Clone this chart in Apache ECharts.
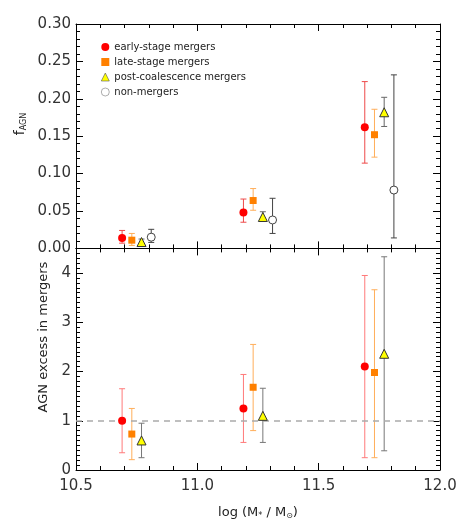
<!DOCTYPE html>
<html>
<head>
<meta charset="utf-8">
<script src="https://cdn.jsdelivr.net/npm/echarts@6/dist/echarts.min.js"></script>
<style>
  html, body { margin: 0; padding: 0; background: #fff; }
  #chart { width: 463px; height: 521px; }
</style>
</head>
<body>
<div id="chart"></div>
<script>
// stellar mass per stage (slightly offset in each bin)
const massEarly = [10.69, 11.19, 11.69];
const massLate = [10.73, 11.23, 11.73];
const massPost = [10.77, 11.27, 11.77];
const massNon = [10.81, 11.31, 11.81];

// top panel: AGN fraction with error range
const fEarly = [0.014, 0.048, 0.162];
const fEarlyLo = [0.007, 0.035, 0.114];
const fEarlyHi = [0.024, 0.066, 0.223];
const fLate = [0.011, 0.064, 0.152];
const fLateLo = [0.004, 0.051, 0.122];
const fLateHi = [0.020, 0.080, 0.186];
const fPost = [0.0085, 0.042, 0.182];
const fPostLo = [0.005, 0.038, 0.163];
const fPostHi = [0.0125, 0.049, 0.202];
const fNon = [0.015, 0.038, 0.078];
const fNonLo = [0.008, 0.020, 0.014];
const fNonHi = [0.0255, 0.067, 0.232];

// bottom panel: AGN excess in mergers
const exEarly = [1.0, 1.25, 2.10];
const exEarlyLo = [0.35, 0.56, 0.25];
const exEarlyHi = [1.65, 1.94, 3.95];
const exLate = [0.73, 1.68, 1.98];
const exLateLo = [0.21, 0.80, 0.25];
const exLateHi = [1.25, 2.55, 3.66];
const exPost = [0.60, 1.10, 2.36];
const exPostLo = [0.25, 0.56, 0.39];
const exPostHi = [0.95, 1.66, 4.33];

const legendNames = ['early-stage mergers', 'late-stage mergers', 'post-coalescence mergers', 'non-mergers'];

const myChart = echarts.init(document.getElementById('chart'));

const pts = (xs, ys) => xs.map((x, i) => [x, ys[i]]);
const bars = (xs, lo, hi) => xs.map((x, i) => [x, lo[i], hi[i]]);

// vertical error bar with small caps
const errBar = (name, data, color, axis) => ({
  type: 'custom',
  name: name + ' err',
  xAxisIndex: axis,
  yAxisIndex: axis,
  z: 2,
  silent: true,
  data: data,
  renderItem: (params, api) => {
    const x = api.value(0);
    const a = api.coord([x, api.value(1)]);
    const b = api.coord([x, api.value(2)]);
    const c = 3;
    const st = { stroke: color, lineWidth: 1 };
    return {
      type: 'group',
      children: [
        { type: 'line', shape: { x1: a[0], y1: a[1], x2: b[0], y2: b[1] }, style: st },
        { type: 'line', shape: { x1: a[0] - c, y1: a[1], x2: a[0] + c, y2: a[1] }, style: st },
        { type: 'line', shape: { x1: b[0] - c, y1: b[1], x2: b[0] + c, y2: b[1] }, style: st },
      ],
    };
  },
});

const marker = (name, data, axis, symbol, size, style) => ({
  type: 'scatter',
  name: name,
  xAxisIndex: axis,
  yAxisIndex: axis,
  z: 5,
  symbol: symbol,
  symbolSize: size,
  itemStyle: { opacity: 1, ...style },
  data: data,
});

const tickStyle = { lineStyle: { color: '#000', width: 1 } };
const xAxisBase = (grid, pos, label) => ({
  type: 'value',
  gridIndex: grid,
  position: pos,
  min: 10.5,
  max: 12.0,
  interval: 0.5,
  axisLine: { show: true, onZero: false, lineStyle: { color: '#000', width: 1 } },
  axisTick: { show: true, inside: true, length: 7, ...tickStyle },
  minorTick: { show: true, splitNumber: 5, length: 4, ...tickStyle },
  splitLine: { show: false },
  axisLabel: label
    ? { show: true, color: '#333', fontSize: 15, fontFamily: 'DejaVu Sans', margin: 9,
        formatter: (v) => v.toFixed(1) }
    : { show: false },
});

const yAxisBase = (grid, pos, min, max, interval, minor, label) => ({
  type: 'value',
  gridIndex: grid,
  position: pos,
  min: min,
  max: max,
  interval: interval,
  axisLine: { show: true, onZero: false, lineStyle: { color: '#000', width: 1 } },
  axisTick: { show: true, inside: true, length: 7, ...tickStyle },
  minorTick: { show: true, splitNumber: minor, length: 4, ...tickStyle },
  splitLine: { show: false },
  axisLabel: label
    ? { show: true, color: '#333', fontSize: 15, fontFamily: 'DejaVu Sans', margin: 5,
        showMaxLabel: label.showMax, formatter: label.fmt }
    : { show: false },
});

const option = {
  animation: false,
  backgroundColor: '#fff',
  grid: [
    { left: 76, right: 23, top: 24, height: 224.4 },
    { left: 76, right: 23, top: 248.4, height: 223.9 },
  ],
  legend: {
    data: [
      { name: legendNames[0] },
      { name: legendNames[1] },
      { name: legendNames[2], itemStyle: { borderColor: '#555', borderWidth: 0.6 } },
      { name: legendNames[3], itemStyle: { borderColor: '#777', borderWidth: 0.6 } },
    ],
    orient: 'vertical',
    left: 96,
    top: 36,
    itemWidth: 8,
    itemHeight: 8,
    itemGap: 3,
    itemTextGap: 8,
    selectedMode: false,
    textStyle: { color: '#222', fontSize: 10, fontFamily: 'DejaVu Sans', lineHeight: 12 },
  },
  xAxis: [
    xAxisBase(0, 'bottom', false),
    xAxisBase(0, 'top', false),
    {
      ...xAxisBase(1, 'bottom', true),
      name: '{a|log (M}{s|*}{a| / M}{s|⊙}{a|)}',
      nameLocation: 'middle',
      nameGap: 36,
      nameTextStyle: {
        rich: {
          a: { fontSize: 13, fontFamily: 'DejaVu Sans', color: '#222' },
          s: { fontSize: 8, fontFamily: 'DejaVu Sans', color: '#222', verticalAlign: 'bottom', padding: [6, 0, 0, 0] },
        },
      },
    },
    xAxisBase(1, 'top', false),
  ],
  yAxis: [
    yAxisBase(0, 'left', 0, 0.30, 0.05, 5, { showMax: true, fmt: (v) => v.toFixed(2) }),
    yAxisBase(0, 'right', 0, 0.30, 0.05, 5, false),
    yAxisBase(1, 'left', 0, 4.5, 1, 10, { showMax: false, fmt: (v) => String(v) }),
    yAxisBase(1, 'right', 0, 4.5, 1, 10, false),
  ],
  graphic: [
    {
      type: 'text',
      x: 20,
      y: 124,
      rotation: Math.PI / 2,
      style: {
        text: '{f|f}{s|AGN}',
        align: 'center',
        verticalAlign: 'middle',
        rich: {
          f: { fontSize: 14, fontFamily: 'DejaVu Sans', fill: '#222' },
          s: { fontSize: 8, fontFamily: 'DejaVu Sans', fill: '#222', verticalAlign: 'bottom', padding: [7, 0, 0, 0] },
        },
      },
    },
    {
      type: 'text',
      x: 44,
      y: 337,
      rotation: Math.PI / 2,
      style: {
        text: 'AGN excess in mergers',
        align: 'center',
        verticalAlign: 'middle',
        fontSize: 13,
        fontFamily: 'DejaVu Sans',
        fill: '#222',
      },
    },
  ],
  series: [
    // top panel
    errBar('early', bars(massEarly, fEarlyLo, fEarlyHi), '#ee4a4a', 0),
    errBar('late', bars(massLate, fLateLo, fLateHi), '#ffae5a', 0),
    errBar('post', bars(massPost, fPostLo, fPostHi), '#666', 0),
    errBar('non', bars(massNon, fNonLo, fNonHi), '#444', 0),
    marker(legendNames[0], pts(massEarly, fEarly), 0, 'circle', 8, { color: '#ff0000' }),
    marker(legendNames[1], pts(massLate, fLate), 0, 'rect', 7, { color: '#ff8000' }),
    marker(legendNames[2], pts(massPost, fPost), 0, 'triangle', 9,
      { color: '#ffff00', borderColor: '#333', borderWidth: 1 }),
    marker(legendNames[3], pts(massNon, fNon), 0, 'circle', 8,
      { color: '#fff', borderColor: '#444', borderWidth: 1 }),
    // bottom panel
    {
      ...errBar('early', bars(massEarly, exEarlyLo, exEarlyHi), '#ff7a7a', 2),
      markLine: {
        silent: true,
        symbol: 'none',
        label: { show: false },
        lineStyle: { color: '#aaa', type: [6, 5], width: 1.5 },
        data: [{ yAxis: 1 }],
      },
    },
    errBar('late', bars(massLate, exLateLo, exLateHi), '#ffae5a', 2),
    errBar('post', bars(massPost, exPostLo, exPostHi), '#777', 2),
    marker(legendNames[0], pts(massEarly, exEarly), 2, 'circle', 8, { color: '#ff0000' }),
    marker(legendNames[1], pts(massLate, exLate), 2, 'rect', 7, { color: '#ff8000' }),
    marker(legendNames[2], pts(massPost, exPost), 2, 'triangle', 9,
      { color: '#ffff00', borderColor: '#333', borderWidth: 1 }),
  ],
};

option && myChart.setOption(option);
</script>
</body>
</html>
